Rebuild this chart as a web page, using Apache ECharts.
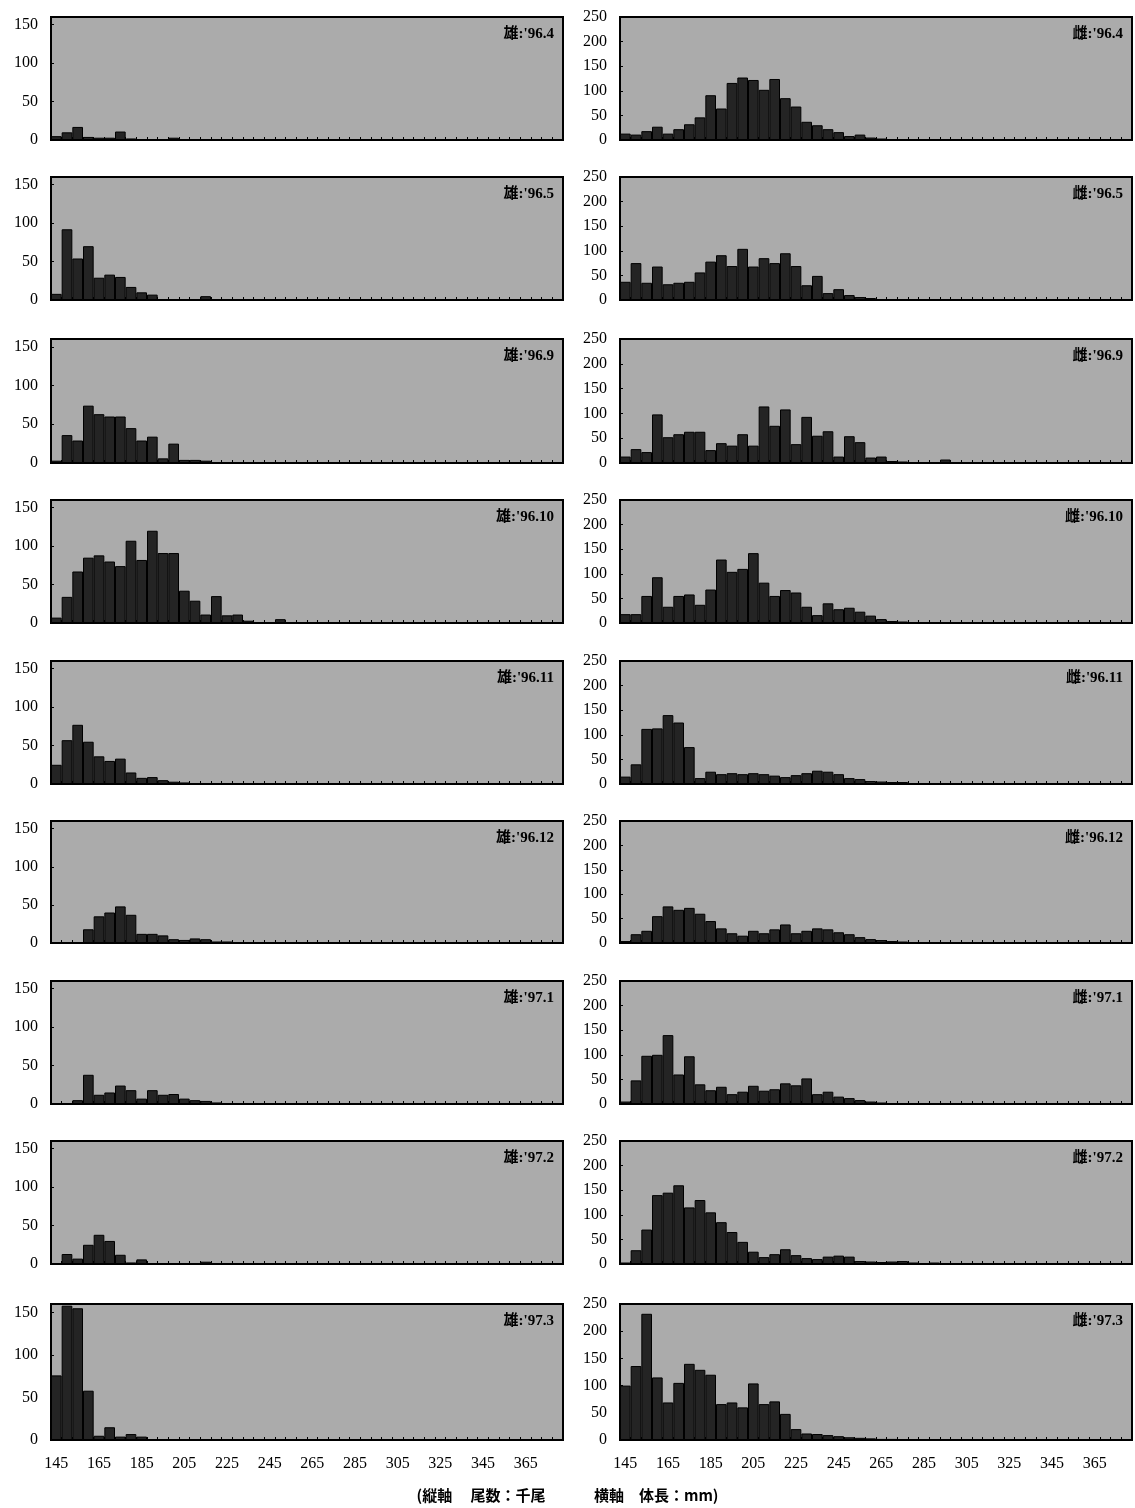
<!DOCTYPE html>
<html>
<head>
<meta charset="utf-8">
<script src="https://cdn.jsdelivr.net/npm/echarts@6/dist/echarts.min.js"></script>
<style>
html,body{margin:0;padding:0;background:#fff;}
#chart{width:1135px;height:1508px;}
</style>
</head>
<body>
<div id="chart"></div>
<script>
// Body length classes (mm)
const lengthClasses = ['145','150','155','160','165','170','175','180','185','190','195','200',
  '205','210','215','220','225','230','235','240','245','250','255','260',
  '265','270','275','280','285','290','295','300','305','310','315','320',
  '325','330','335','340','345','350','355','360','365','370','375','380'];

// Panel labels
const maleLabels   = ["雄:'96.4","雄:'96.5","雄:'96.9","雄:'96.10","雄:'96.11","雄:'96.12","雄:'97.1","雄:'97.2","雄:'97.3"];
const femaleLabels = ["雌:'96.4","雌:'96.5","雌:'96.9","雌:'96.10","雌:'96.11","雌:'96.12","雌:'97.1","雌:'97.2","雌:'97.3"];

// Male counts (thousand fish)
const male9604 = [5,10,17,4,3,3,11,2,1,1,1,3,1];
const male9605 = [8,92,54,70,29,33,30,17,10,7,1,1,1,1,5];
const male9609 = [3,36,29,74,63,60,60,45,29,34,6,25,4,4,3];
const male9610 = [7,34,67,85,88,80,74,107,82,120,91,91,42,29,11,35,10,11,3,1,1,5,1];
const male9611 = [25,57,77,55,36,30,33,15,8,9,5,3,2,1,1];
const male9612 = [0,0,0,18,35,40,48,37,12,12,10,5,4,6,5,2,2,1];
const male9701 = [0,0,5,38,12,15,24,18,7,18,12,13,7,5,4,2,1];
const male9702 = [0,13,7,25,38,30,12,2,6,1,0,0,0,0,3];
const male9703 = [76,158,155,58,5,15,4,7,4,1];

// Female counts (thousand fish)
const female9604 = [13,11,18,27,13,22,32,46,91,64,116,127,122,102,124,85,68,37,30,22,16,8,11,5,3,2,1];
const female9605 = [37,75,35,68,32,35,37,56,78,91,69,104,68,85,75,95,69,30,49,14,22,10,6,4,2];
const female9609 = [13,28,22,98,52,58,63,63,26,40,35,58,35,114,75,108,38,93,55,64,13,54,42,11,13,4,3,2,2,0,7];
const female9610 = [18,18,55,93,33,55,58,37,68,129,104,110,142,82,55,67,62,33,16,40,28,31,23,15,8,4,3,2,1,1];
const female9611 = [15,40,112,113,140,125,75,12,25,20,22,20,22,20,17,14,18,22,27,25,20,12,10,6,5,4,4,2];
const female9612 = [4,18,25,55,75,68,72,60,45,30,20,15,25,20,28,38,20,25,30,28,22,18,12,8,6,4,3];
const female9701 = [5,48,98,100,140,60,97,40,28,35,20,25,37,27,30,42,38,52,20,25,15,12,8,5,3];
const female9702 = [3,28,70,140,145,160,115,130,105,85,65,45,25,14,20,30,18,12,10,15,17,15,6,5,4,5,6,3,1,3];
const female9703 = [100,136,232,115,69,105,140,129,120,66,69,60,104,66,71,48,20,12,11,9,7,5,4,3,2,2,1];

const maleSeries = [male9604,male9605,male9609,male9610,male9611,male9612,male9701,male9702,male9703];
const femaleSeries = [female9604,female9605,female9609,female9610,female9611,female9612,female9701,female9702,female9703];

const yMaxMale = 160, yMaxFemale = 250, yStep = 50;

// layout
const rowTop = [17,177,339,500,661,821,981,1141,1304];
const rowBot = [140,300,463,623,784,943,1104,1264,1440];
const colLeft = [51,620];
const plotW = 512;

const chart = echarts.init(document.getElementById('chart'), null, {renderer:'canvas'});
const grids=[], xAxes=[], yAxes=[], series=[], graphics=[];
const serif = "'Liberation Serif','Times New Roman',serif";
let idx = 0;
for (let r=0;r<9;r++){
  for (let c=0;c<2;c++){
    grids.push({left:colLeft[c], top:rowTop[r], width:plotW, height:rowBot[r]-rowTop[r],
      show:true, backgroundColor:'#ababab', borderColor:'#000', borderWidth:2});
    xAxes.push({type:'category', gridIndex:idx, data:lengthClasses, boundaryGap:true,
      axisLine:{show:true, lineStyle:{color:'#000', width:2}},
      axisTick:{show:true, inside:true, length:3, interval:0, lineStyle:{color:'#000'}},
      axisLabel:{show:r===8, interval:3, color:'#000', fontFamily:serif, fontSize:16, margin:16},
      splitLine:{show:false}});
    yAxes.push({type:'value', gridIndex:idx, min:0, max:c===0?yMaxMale:yMaxFemale, interval:yStep,
      axisLine:{show:true, lineStyle:{color:'#000', width:2}},
      axisTick:{show:true, inside:true, length:3, lineStyle:{color:'#000'}},
      axisLabel:{color:'#000', fontFamily:serif, fontSize:16, margin:13, showMaxLabel:c!==0},
      splitLine:{show:false}});
    series.push({type:'bar', xAxisIndex:idx, yAxisIndex:idx,
      data:(c===0?maleSeries:femaleSeries)[r], barCategoryGap:'0%',
      itemStyle:{color:'#242424', borderColor:'#000', borderWidth:1}, silent:true});
    graphics.push({type:'text', right: 1135-(colLeft[c]+plotW-9),
      top: rowTop[r]+10,
      style:{text:(c===0?maleLabels:femaleLabels)[r], fill:'#000',
        font:"bold 15px 'Liberation Serif','Noto Sans CJK JP',serif"}});
    idx++;
  }
}
graphics.push({type:'text', left:'center', top:1488,
  style:{text:'(縦軸　 尾数：千尾　　　 横軸　体長：mm)', fill:'#000',
    font:"bold 15px 'Noto Sans CJK JP',sans-serif"}});

chart.setOption({animation:false, backgroundColor:'#fff', grid:grids, xAxis:xAxes, yAxis:yAxes, series:series, graphic:graphics});
</script>
</body>
</html>
